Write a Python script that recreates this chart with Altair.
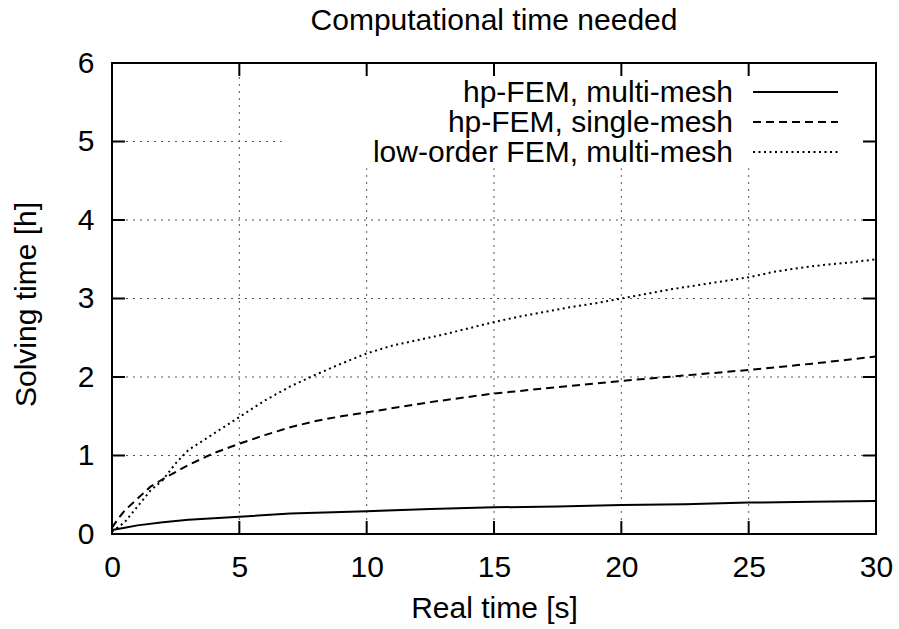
import altair as alt
import pandas as pd

# ---------------- data ----------------
series_names = ["hp-FEM, multi-mesh", "hp-FEM, single-mesh", "low-order FEM, multi-mesh"]

x_multi = [0, 0.5, 1, 2, 3, 4, 5, 7, 10, 12.5, 15, 17.5, 20, 22.5, 25, 27.5, 30]
y_multi = [0.05, 0.08, 0.11, 0.15, 0.18, 0.20, 0.22, 0.26, 0.29, 0.32, 0.34, 0.35, 0.37, 0.38, 0.40, 0.41, 0.42]

x_single = [0, 0.25, 0.5, 1, 1.5, 2, 3, 4, 5, 6, 7, 8, 9, 10, 12.5, 15, 17.5, 20, 22.5, 25, 27.5, 30]
y_single = [0.08, 0.2, 0.3, 0.45, 0.6, 0.7, 0.88, 1.03, 1.15, 1.26, 1.36, 1.44, 1.50, 1.55, 1.68, 1.79,
            1.87, 1.95, 2.02, 2.09, 2.17, 2.26]

x_low = [0, 0.5, 1, 1.5, 2, 2.5, 3, 4, 5, 6, 7, 8, 9, 10, 11, 12, 13, 14, 15, 16, 17, 18, 19, 20,
         21, 22, 23, 24, 25, 26, 27, 28, 29, 30]
y_low = [0.03, 0.15, 0.35, 0.55, 0.69, 0.9, 1.07, 1.28, 1.49, 1.70, 1.88, 2.03, 2.17, 2.30, 2.40, 2.47,
         2.54, 2.62, 2.70, 2.77, 2.83, 2.89, 2.94, 3.00, 3.06, 3.12, 3.17, 3.22, 3.27, 3.34, 3.39, 3.43,
         3.46, 3.50]

x_ticks = [0, 5, 10, 15, 20, 25, 30]
y_ticks = [0, 1, 2, 3, 4, 5, 6]

# grid segments (gnuplot blanks the grid behind the key box)
grid_h_y = [1, 2, 3, 4, 5]
grid_h_end = [30, 30, 30, 30, 6.66]
grid_v_x = [5, 10, 15, 20, 25]
grid_v_end = [6, 4.66, 4.66, 4.66, 4.66]

title_text = "Computational time needed"
x_title = "Real time [s]"
y_title = "Solving time [h]"

# ---------------- layout ----------------
W, H = 764, 471
FONT = "Liberation Sans"
FS = 30
TICK = 13

xscale = alt.Scale(domain=[0, 30], nice=False, zero=False)
yscale = alt.Scale(domain=[0, 6], nice=False, zero=False)

xaxis = alt.Axis(values=x_ticks, title=x_title, grid=False, ticks=False, domain=False,
                 labelFont=FONT, labelFontSize=FS, labelColor="black", labelPadding=18,
                 labelFlush=False, labelOverlap=False,
                 titleFont=FONT, titleFontSize=FS, titleColor="black", titleFontWeight="normal",
                 titleX=W / 2, titleY=83, titleAlign="center", titleBaseline="alphabetic")
yaxis = alt.Axis(values=y_ticks, title=y_title, grid=False, ticks=False, domain=False,
                 labelFont=FONT, labelFontSize=FS, labelColor="black", labelPadding=18,
                 labelFlush=False, labelOverlap=False,
                 titleFont=FONT, titleFontSize=FS, titleColor="black", titleFontWeight="normal",
                 titleX=-86, titleY=241, titleAngle=270, titleAlign="center", titleBaseline="middle")

xenc = alt.X("x:Q", scale=xscale, axis=xaxis)
yenc = alt.Y("y:Q", scale=yscale, axis=yaxis)

gh = pd.DataFrame({"y": grid_h_y, "x": [0] * len(grid_h_y), "x2": grid_h_end})
gv = pd.DataFrame({"x": grid_v_x, "y": [0] * len(grid_v_x), "y2": grid_v_end})

grid_style = dict(color="#555555", strokeWidth=1, strokeDash=[2, 5])
grid_h = alt.Chart(gh).mark_rule(**grid_style).encode(x=xenc, x2="x2:Q", y=yenc)
grid_v = alt.Chart(gv).mark_rule(**grid_style).encode(x=xenc, y=yenc, y2="y2:Q")

xt = pd.DataFrame({"x": x_ticks})
yt = pd.DataFrame({"y": y_ticks})
tick_style = dict(color="black", strokeWidth=2)
t_bottom = alt.Chart(xt).mark_rule(**tick_style).encode(x=xenc, y=alt.value(H), y2=alt.value(H - TICK))
t_top = alt.Chart(xt).mark_rule(**tick_style).encode(x=xenc, y=alt.value(0), y2=alt.value(TICK))
t_left = alt.Chart(yt).mark_rule(**tick_style).encode(y=yenc, x=alt.value(0), x2=alt.value(TICK))
t_right = alt.Chart(yt).mark_rule(**tick_style).encode(y=yenc, x=alt.value(W), x2=alt.value(W - TICK))

styles = [[1, 0], [8, 5], [2, 3.5]]
xs_all = [x_multi, x_single, x_low]
ys_all = [y_multi, y_single, y_low]
row_y = [29, 59, 89]

layers = [grid_h, grid_v]
for name, xs, ys, dash, ry in zip(series_names, xs_all, ys_all, styles, row_y):
    df = pd.DataFrame({"x": xs, "y": ys})
    mk = dict(color="black", strokeWidth=2)
    if dash != [1, 0]:
        mk["strokeDash"] = dash
    layers.append(alt.Chart(df).mark_line(**mk).encode(x=xenc, y=yenc))
    lg = pd.DataFrame({"name": [name]})
    layers.append(alt.Chart(lg).mark_rule(**mk).encode(
        x=alt.value(641), x2=alt.value(726), y=alt.value(ry)))
    layers.append(alt.Chart(lg).mark_text(
        font=FONT, fontSize=FS, color="black", align="right", baseline="alphabetic").encode(
        x=alt.value(621), y=alt.value(ry + 10), text="name:N"))

layers += [t_bottom, t_top, t_left, t_right]

tdf = pd.DataFrame({"t": [title_text]})
layers.append(alt.Chart(tdf).mark_text(
    font=FONT, fontSize=FS, color="black", align="center", baseline="alphabetic").encode(
    x=alt.value(W / 2), y=alt.value(-33), text="t:N"))

chart = alt.layer(*layers).properties(
    width=W, height=H,
    autosize=alt.AutoSizeParams(type="none"),
    padding={"left": 112, "top": 63, "right": 23, "bottom": 95},
    background="white",
).configure_view(stroke="black", strokeWidth=2)

chart.save("out.html", embed_options={"renderer": "svg", "actions": False})
